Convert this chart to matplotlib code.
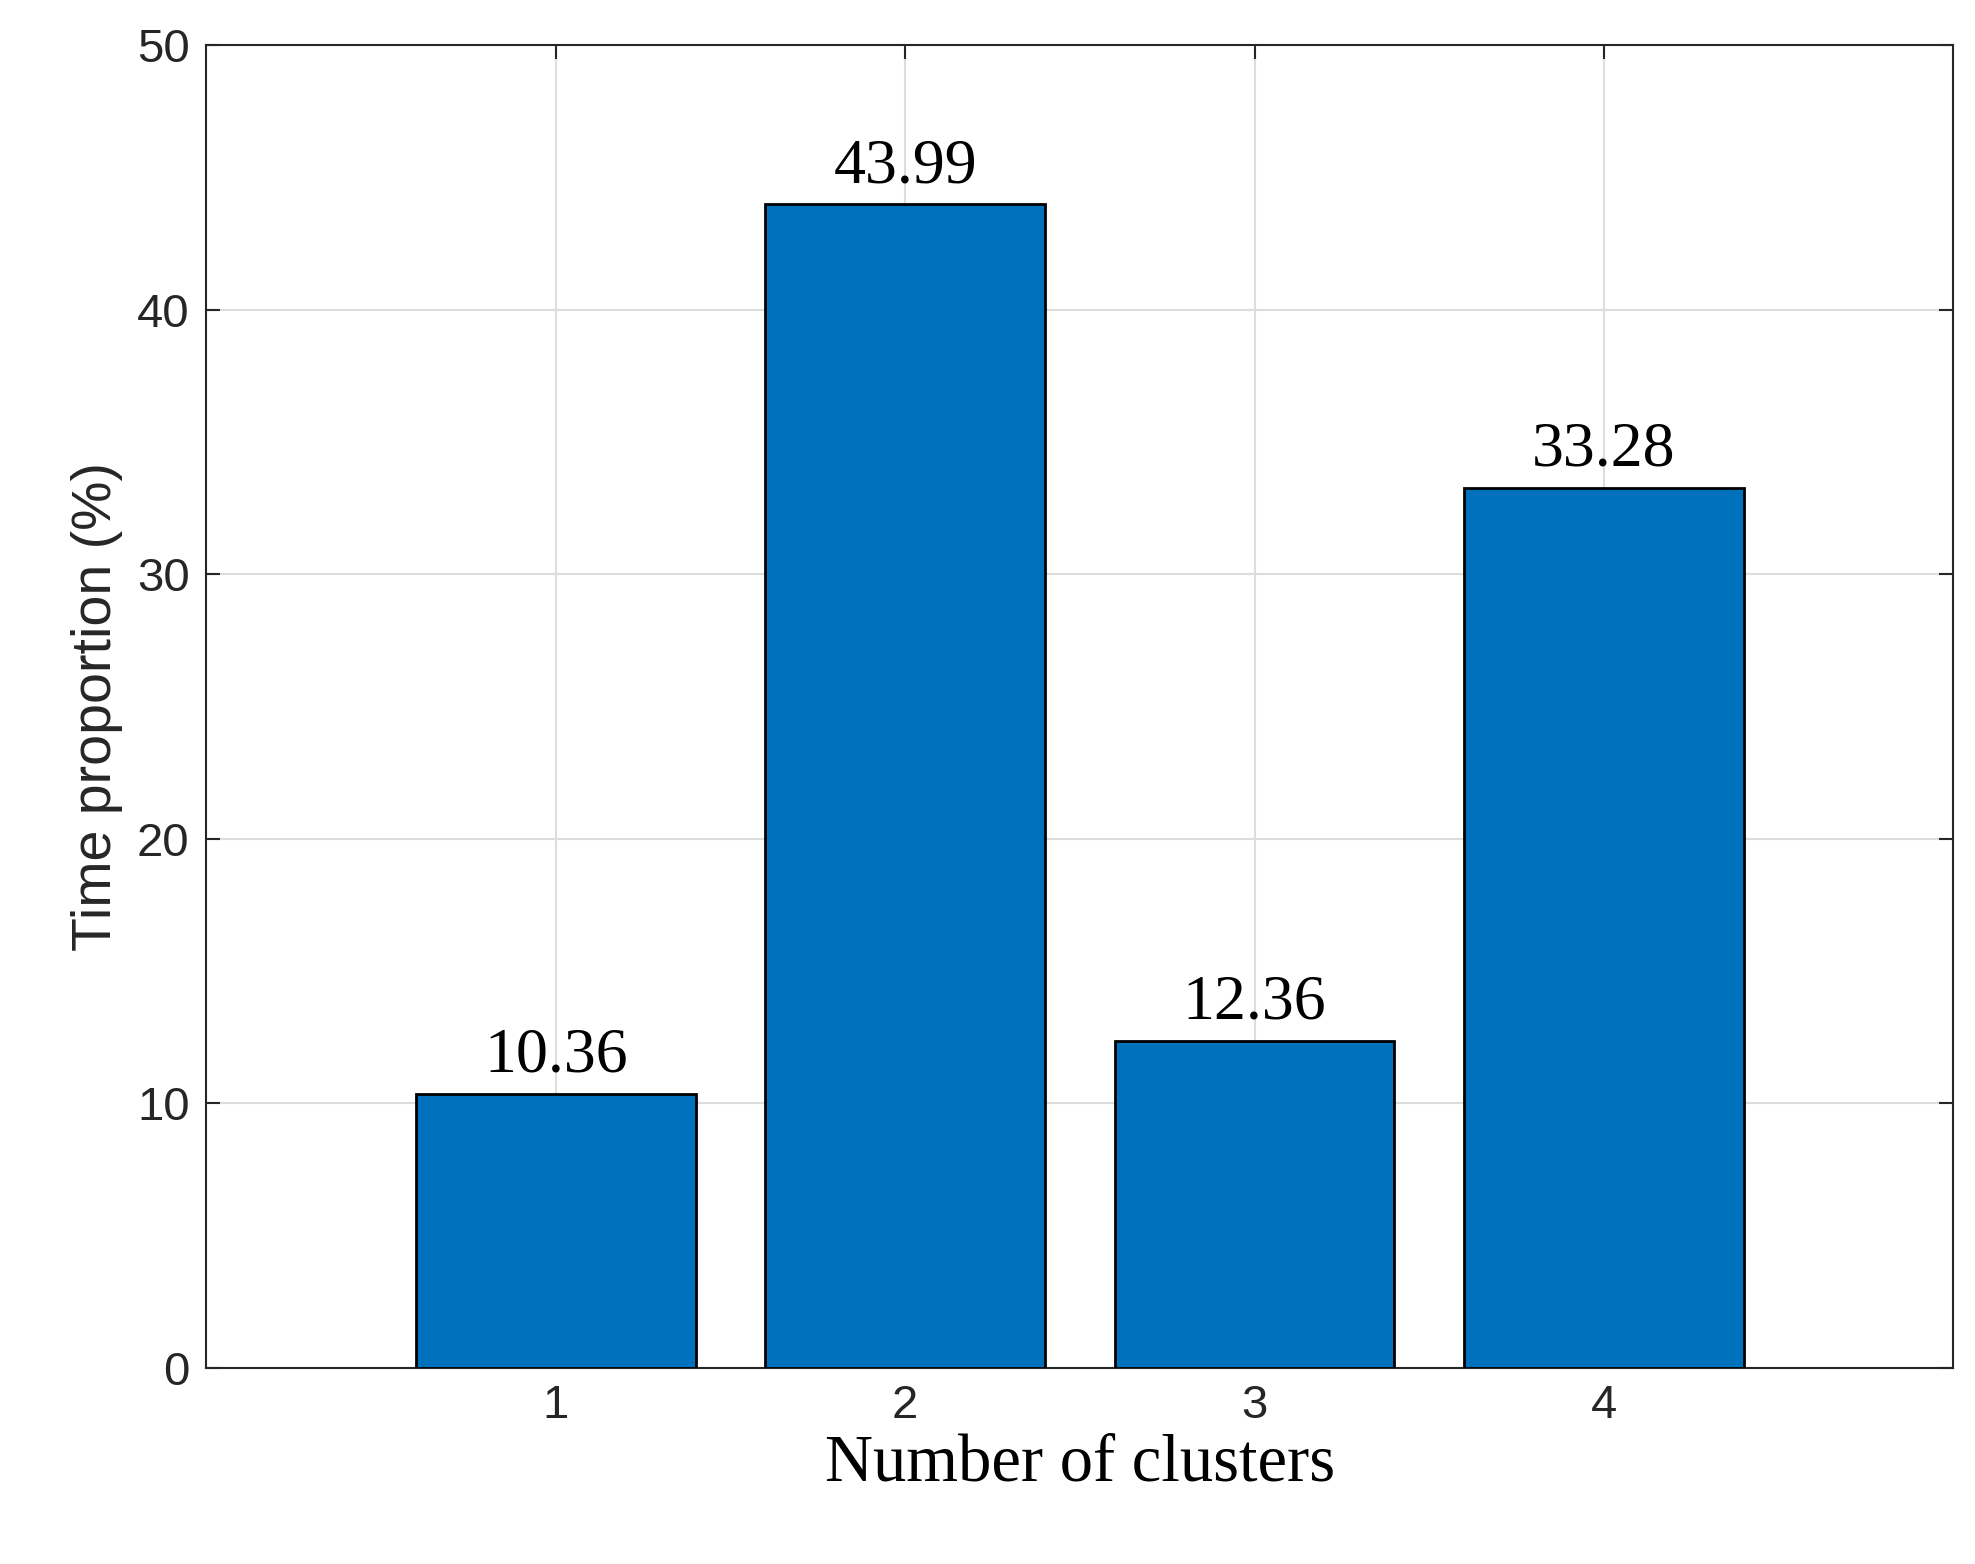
import matplotlib
matplotlib.use("Agg")
import matplotlib.pyplot as plt

categories = [1, 2, 3, 4]
values = [10.36, 43.99, 12.36, 33.28]
labels = ["10.36", "43.99", "12.36", "33.28"]

fig = plt.figure(figsize=(19.75, 15.64), dpi=100)
ax = fig.add_axes([0.1045, 0.1255, 0.8845, 0.8455])
ax.bar(categories, values, width=0.8, color="#0072BD", edgecolor="black", linewidth=2, zorder=3)
for x, v, t in zip(categories, values, labels):
    ax.text(x, v + 0.3, t, ha="center", va="bottom", family="Liberation Serif", fontsize=46, zorder=4)
ax.set_xlim(0, 5)
ax.set_ylim(0, 50)
ax.set_xticks(categories)
ax.set_yticks(range(0, 51, 10))
ax.grid(True, color="#DDDDDD", linewidth=1.5, zorder=0)
ax.tick_params(axis="both", labelsize=34, direction="in", length=10, width=1.5, colors="#262626",
               top=True, right=True, pad=12)
for lab in ax.get_xticklabels() + ax.get_yticklabels():
    lab.set_family("Liberation Sans")
for s in ax.spines.values():
    s.set_linewidth(1.5)
    s.set_color("#262626")
ax.set_xlabel("Number of clusters", family="Liberation Serif", fontsize=48, labelpad=4)
ax.set_ylabel("Time proportion (%)", family="Liberation Sans", fontsize=40, color="#262626", labelpad=10)
fig.savefig("out.png", dpi=100)
